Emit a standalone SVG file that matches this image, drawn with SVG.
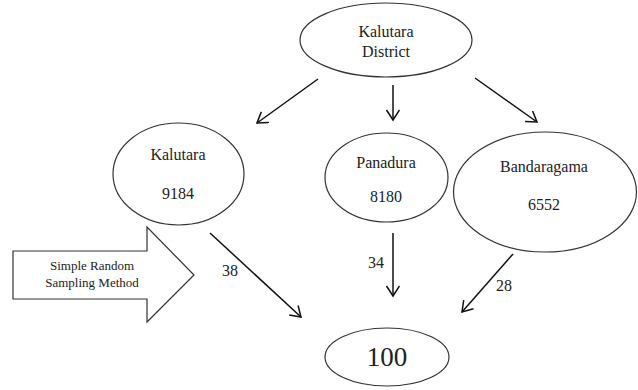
<svg xmlns="http://www.w3.org/2000/svg" width="638" height="390" viewBox="0 0 638 390">
<style>
.n{fill:#fff;stroke:#333;stroke-width:1.2}
.t{font-family:"Liberation Serif","Times New Roman","DejaVu Serif",serif;fill:#222;text-anchor:middle}
.c{stroke:#111;stroke-width:1.5;fill:none;marker-end:url(#ah)}
</style>
<defs>
<marker id="ah" markerWidth="16" markerHeight="16" refX="11" refY="7" orient="auto" markerUnits="userSpaceOnUse">
<polyline points="1,0.5 11,7 1,13.5" fill="none" stroke="#111" stroke-width="1.5"/>
</marker>
</defs>
<rect width="638" height="390" fill="#fff"/>
<g id="district">
<ellipse class="n" cx="386" cy="40" rx="86" ry="37"/>
<text class="t" x="386" y="37" font-size="16">Kalutara</text>
<text class="t" x="386" y="57" font-size="16">District</text>
</g>
<g id="kalutara">
<ellipse class="n" cx="178.5" cy="174" rx="65.5" ry="51"/>
<text class="t" x="178" y="160" font-size="16">Kalutara</text>
<text class="t" x="178" y="199" font-size="16">9184</text>
</g>
<g id="panadura">
<ellipse class="n" cx="386.5" cy="177.5" rx="61.5" ry="44.5"/>
<text class="t" x="386" y="168" font-size="16">Panadura</text>
<text class="t" x="386" y="202" font-size="16">8180</text>
</g>
<g id="bandaragama">
<ellipse class="n" cx="545" cy="192" rx="91.5" ry="60"/>
<text class="t" x="544" y="172" font-size="16">Bandaragama</text>
<text class="t" x="544" y="210" font-size="16">6552</text>
</g>
<g id="total">
<ellipse class="n" cx="387" cy="357" rx="62" ry="29"/>
<text class="t" x="387" y="366" font-size="27">100</text>
</g>
<g id="method">
<polygon class="n" points="13,251 147,251 147,227 194,275 147,322 147,299 13,299"/>
<text class="t" x="92" y="270" font-size="13">Simple Random</text>
<text class="t" x="92" y="287" font-size="13">Sampling Method</text>
</g>
<g id="connectors">
<line class="c" x1="318" y1="79" x2="257" y2="123"/>
<line class="c" x1="393" y1="85" x2="393" y2="120"/>
<line class="c" x1="475" y1="78" x2="537" y2="122"/>
<line class="c" x1="210" y1="233" x2="301" y2="317"/>
<line class="c" x1="393" y1="233" x2="393" y2="296"/>
<line class="c" x1="513" y1="254" x2="462" y2="312"/>
<text class="t" x="230" y="276" font-size="16">38</text>
<text class="t" x="376" y="268" font-size="16">34</text>
<text class="t" x="504" y="291" font-size="16">28</text>
</g>
</svg>
